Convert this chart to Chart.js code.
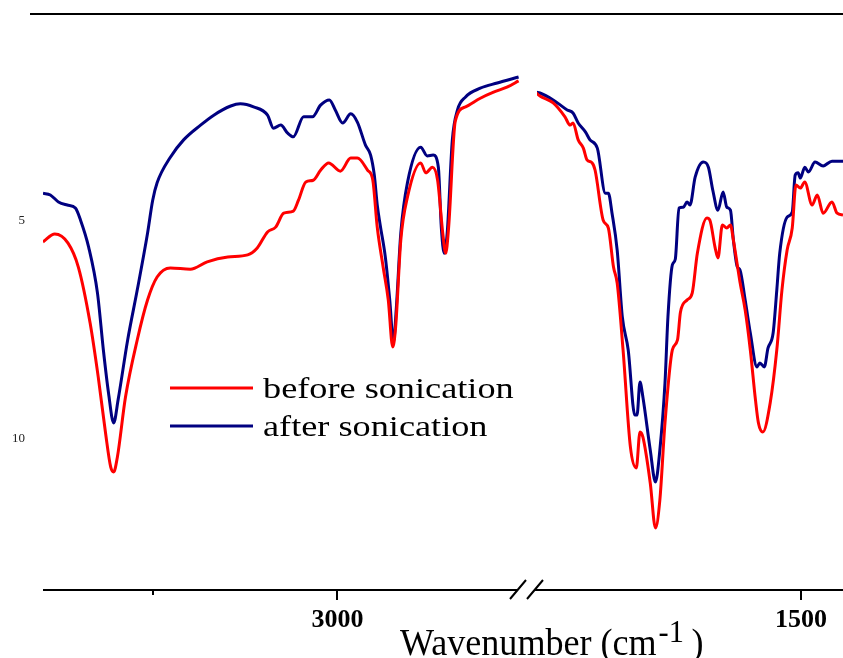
<!DOCTYPE html>
<html>
<head>
<meta charset="utf-8">
<title>FTIR spectra</title>
<script src="https://cdn.jsdelivr.net/npm/chart.js"></script>
<style>
  html, body { margin: 0; padding: 0; background: #fff; overflow: hidden; }
  #wrap { position: relative; width: 843px; height: 658px; }
  #chart { display: block; }
</style>
</head>
<body>
<div id="wrap"><canvas id="chart"></canvas></div>
<script>
// high wavenumber window (left of the axis break)
const beforeHighWn = [3400, 3384, 3366, 3352, 3336, 3325, 3315, 3308, 3304, 3299, 3288, 3272, 3258, 3245, 3227,
  3200, 3177, 3149, 3122, 3109, 3095, 3084, 3073, 3060, 3053, 3043, 3033, 3023, 3012, 2996,
  2982, 2973, 2959, 2952, 2946, 2938, 2931, 2925, 2921, 2914, 2905, 2887, 2880, 2871, 2864,
  2857, 2853, 2849, 2840, 2826, 2806, 2788, 2769, 2754];
const beforeHighVal = [5.48, 5.30, 5.51, 6.06, 7.35, 8.59, 9.89, 10.67, 10.78, 10.44, 9.06, 7.74, 6.82, 6.29, 6.08,
  6.11, 5.94, 5.83, 5.78, 5.62, 5.25, 5.14, 4.82, 4.77, 4.52, 4.10, 4.06, 3.83, 3.66, 3.85,
  3.55, 3.55, 3.83, 4.06, 5.14, 6.06, 6.82, 7.90, 7.44, 5.44, 4.45, 3.66, 3.89, 3.76, 4.06,
  5.28, 5.74, 5.14, 2.70, 2.37, 2.17, 2.03, 1.91, 1.77];

const afterHighWn = [3400, 3390, 3379, 3367, 3356, 3349, 3338, 3326, 3318, 3311, 3304, 3298, 3285, 3272, 3258,
  3251, 3245, 3227, 3209, 3186, 3168, 3145, 3132, 3114, 3095, 3087, 3077, 3068, 3060, 3046,
  3034, 3023, 3011, 3003, 2993, 2982, 2973, 2962, 2955, 2950, 2946, 2942, 2935, 2929, 2924,
  2920, 2914, 2905, 2887, 2878, 2870, 2863, 2859, 2855, 2851, 2844, 2837, 2826, 2806, 2783, 2754];
const afterHighVal = [4.36, 4.40, 4.56, 4.63, 4.70, 4.98, 5.60, 6.66, 7.97, 8.96, 9.65, 9.12, 7.74, 6.59, 5.28,
  4.52, 4.12, 3.53, 3.13, 2.79, 2.56, 2.35, 2.30, 2.37, 2.56, 2.86, 2.79, 2.97, 3.06, 2.60,
  2.60, 2.33, 2.21, 2.44, 2.74, 2.53, 2.72, 3.25, 3.48, 3.94, 4.63, 5.09, 5.83, 6.82, 7.79,
  6.98, 5.28, 4.12, 3.30, 3.50, 3.48, 3.76, 5.14, 5.74, 5.28, 3.13, 2.44, 2.14, 1.94, 1.82, 1.68];

// fingerprint window (right of the break)
const beforeLowWn = [1860, 1855, 1837, 1821, 1814, 1810, 1803, 1796, 1791, 1784, 1780, 1769, 1762, 1755, 1750,
  1742, 1732, 1724, 1719, 1715, 1705, 1698, 1692, 1685, 1675, 1668, 1664, 1655, 1648, 1641,
  1628, 1624, 1617, 1613, 1607, 1601, 1596, 1592, 1583, 1576, 1569, 1562, 1558, 1552, 1542,
  1533, 1526, 1519, 1512, 1507, 1501, 1495, 1485, 1478, 1470, 1458, 1451, 1443];
const beforeLowVal = [2.05, 2.12, 2.28, 2.60, 2.79, 2.74, 3.13, 3.32, 3.59, 3.66, 3.83, 4.98, 5.16, 6.06, 6.43,
  7.97, 10.21, 10.69, 9.86, 9.98, 11.04, 12.07, 11.43, 9.65, 7.97, 7.74, 7.10, 6.82, 6.66, 5.74,
  4.93, 4.98, 5.60, 5.85, 5.09, 5.16, 5.09, 5.44, 6.41, 7.05, 7.97, 9.12, 9.65, 9.86, 9.19,
  7.97, 6.59, 5.67, 5.16, 4.17, 4.24, 4.10, 4.63, 4.40, 4.82, 4.56, 4.82, 4.86];

const afterLowWn = [1860, 1855, 1837, 1818, 1810, 1803, 1793, 1787, 1777, 1766, 1762, 1757, 1750, 1743, 1735,
  1726, 1723, 1719, 1715, 1705, 1698, 1692, 1685, 1681, 1675, 1671, 1666, 1660, 1655, 1651,
  1644, 1633, 1626, 1620, 1613, 1606, 1601, 1596, 1592, 1587, 1583, 1576, 1569, 1560, 1556,
  1550, 1545, 1538, 1533, 1529, 1519, 1512, 1508, 1504, 1501, 1495, 1490, 1481, 1470, 1458, 1443];
const afterLowVal = [2.03, 2.05, 2.21, 2.44, 2.51, 2.74, 2.95, 3.13, 3.32, 4.36, 4.36, 4.82, 5.67, 7.21, 7.97,
  9.47, 9.47, 8.71, 9.06, 10.28, 11.01, 10.28, 8.73, 7.21, 6.01, 5.88, 4.70, 4.68, 4.56, 4.63,
  3.99, 3.64, 3.76, 4.29, 4.75, 4.33, 4.68, 4.75, 5.44, 6.04, 6.13, 6.82, 7.58, 8.36, 8.27,
  8.36, 7.93, 7.58, 6.59, 5.74, 4.91, 4.79, 3.94, 3.89, 4.01, 3.76, 3.87, 3.64, 3.73, 3.62, 3.62];

const seriesLabels = ["before sonication", "after sonication"];
const seriesColors = ["#ff0000", "#000080"];

const yTicks = [5, 10];
const highTicks = [3000];
const highMinorTicks = [3250];
const lowTicks = [1500];

const serif = '"Liberation Serif", "Times New Roman", serif';

function toPoints(xs, ys) {
  return xs.map((x, i) => ({ x: x, y: ys[i] }));
}

function lineSet(label, color, xs, ys, axis) {
  return {
    label: label,
    data: toPoints(xs, ys),
    xAxisID: axis,
    borderColor: color,
    backgroundColor: color,
    borderWidth: 3,
    pointRadius: 0,
    cubicInterpolationMode: "monotone",
    fill: false
  };
}

// no automatic label padding: the plot box is fixed by the axis sizes
function noPadding(s) {
  s.paddingLeft = 0;
  s.paddingRight = 0;
  s.paddingTop = 0;
  s.paddingBottom = 0;
}

// frame line, broken bottom axis, minor tick, legend and axis title
const decorations = {
  id: "decorations",
  afterDraw(chart) {
    const ctx = chart.ctx;
    const area = chart.chartArea;
    const xHigh = chart.scales.xHigh;
    const base = area.bottom;
    const breakX = xHigh.right;

    ctx.save();
    ctx.strokeStyle = "#000";
    ctx.lineWidth = 2;
    ctx.beginPath();
    ctx.moveTo(30, area.top);
    ctx.lineTo(area.right, area.top);
    ctx.moveTo(area.left, base);
    ctx.lineTo(breakX - 19, base);
    ctx.moveTo(breakX - 2, base);
    ctx.lineTo(area.right, base);
    ctx.moveTo(breakX - 27, base + 9);
    ctx.lineTo(breakX - 11, base - 10);
    ctx.moveTo(breakX - 10, base + 9);
    ctx.lineTo(breakX + 6, base - 10);
    highMinorTicks.forEach(v => {
      const x = Math.round(xHigh.getPixelForValue(v));
      ctx.moveTo(x, base);
      ctx.lineTo(x, base + 5);
    });
    ctx.stroke();

    // legend
    ctx.font = "29px " + serif;
    ctx.textBaseline = "alphabetic";
    ctx.textAlign = "left";
    seriesLabels.forEach((label, i) => {
      const y = 388 + i * 38;
      ctx.strokeStyle = seriesColors[i];
      ctx.lineWidth = 3;
      ctx.beginPath();
      ctx.moveTo(170, y);
      ctx.lineTo(253, y);
      ctx.stroke();
      ctx.fillStyle = "#000";
      ctx.save();
      ctx.translate(263, y + 10);
      ctx.scale(1.25, 1);
      ctx.fillText(label, 0, 0);
      ctx.restore();
    });

    // axis title with superscript
    ctx.fillStyle = "#000";
    ctx.save();
    ctx.translate(400, 655);
    ctx.scale(0.95, 1);
    ctx.font = "38px " + serif;
    let x = 0;
    ctx.fillText("Wavenumber (cm", x, 0);
    x += ctx.measureText("Wavenumber (cm").width + 2;
    ctx.font = "32px " + serif;
    ctx.fillText("-1", x, -13);
    x += ctx.measureText("-1").width + 8;
    ctx.font = "38px " + serif;
    ctx.fillText(")", x, 0);
    ctx.restore();
    ctx.restore();
  }
};

const xAxisBase = {
  type: "linear",
  position: "bottom",
  reverse: true,
  stack: "wavenumber",
  border: { display: false },
  grid: {
    display: true,
    drawOnChartArea: false,
    drawTicks: true,
    tickLength: 10,
    color: "#000",
    tickColor: "#000",
    lineWidth: 2
  },
  ticks: {
    color: "#000",
    padding: 5,
    maxRotation: 0,
    font: { family: serif, size: 26, weight: "bold" },
    callback: v => String(v)
  },
  afterFit: s => { s.height = 68; noPadding(s); }
};

const ctx = document.getElementById("chart").getContext("2d");

new Chart(ctx, {
  type: "line",
  data: {
    datasets: [
      lineSet(seriesLabels[0], seriesColors[0], beforeHighWn, beforeHighVal, "xHigh"),
      lineSet(seriesLabels[0], seriesColors[0], beforeLowWn, beforeLowVal, "xLow"),
      lineSet(seriesLabels[1], seriesColors[1], afterHighWn, afterHighVal, "xHigh"),
      lineSet(seriesLabels[1], seriesColors[1], afterLowWn, afterLowVal, "xLow")
    ]
  },
  options: {
    responsive: true,
    maintainAspectRatio: false,
    animation: false,
    layout: { autoPadding: false, padding: { top: 14, left: 0, right: 0, bottom: 0 } },
    plugins: {
      legend: { display: false },
      tooltip: { enabled: false }
    },
    scales: {
      xHigh: Object.assign({}, xAxisBase, {
        min: 2729,
        max: 3400,
        stackWeight: 494,
        afterBuildTicks: s => { s.ticks = highTicks.map(v => ({ value: v })); }
      }),
      xLow: Object.assign({}, xAxisBase, {
        min: 1443,
        max: 1859,
        stackWeight: 306,
        afterBuildTicks: s => { s.ticks = lowTicks.map(v => ({ value: v })); }
      }),
      y: {
        type: "linear",
        position: "left",
        reverse: true,
        min: 0.23,
        max: 13.5,
        border: { display: false },
        grid: { display: false, drawTicks: false },
        ticks: {
          color: "#222",
          padding: 18,
          font: { family: serif, size: 13 },
          callback: v => String(v)
        },
        afterBuildTicks: s => { s.ticks = yTicks.map(v => ({ value: v })); },
        afterFit: s => { s.width = 43; noPadding(s); }
      }
    }
  },
  plugins: [decorations]
});
</script>
</body>
</html>
